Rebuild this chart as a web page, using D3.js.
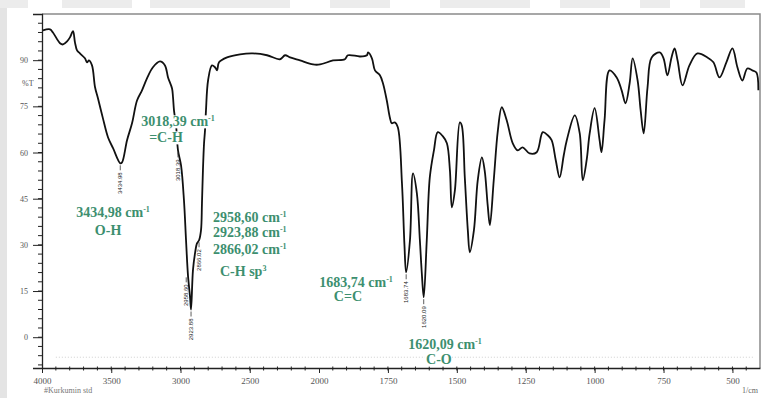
<!DOCTYPE html>
<html>
<head>
<meta charset="utf-8">
<script src="https://cdn.jsdelivr.net/npm/d3@7"></script>
<style>
  html, body { margin: 0; padding: 0; background: #fff; }
  svg { display: block; }
</style>
</head>
<body>
<svg></svg>
<script>
// spectrum (wavenumber in 1/cm, transmittance in %T)
let wavenumbers = [3993, 3942, 3921, 3870, 3848, 3819, 3798, 3776, 3762, 3747, 3726, 3690, 3675, 3661, 3639, 3617, 3596, 3560, 3523, 3487,
    3435, 3422, 3386, 3350, 3314, 3278, 3242, 3199, 3148, 3112, 3090, 3061, 3054, 3047, 3032, 3018, 2996, 2975, 2960, 2946,
    2931, 2924, 2910, 2895, 2881, 2866, 2852, 2845, 2838, 2830, 2823, 2816, 2801, 2773, 2751, 2736, 2722, 2664, 2570, 2477,
    2375, 2282, 2245, 2209, 2137, 2043, 1996, 1949, 1906, 1895, 1851, 1826, 1822, 1808, 1797, 1779, 1768, 1754, 1743, 1736,
    1725, 1714, 1699, 1690, 1684, 1670, 1659, 1645, 1634, 1627, 1620, 1609, 1598, 1583, 1569, 1551, 1536, 1525, 1518, 1507,
    1489, 1482, 1471, 1460, 1453, 1438, 1424, 1409, 1399, 1388, 1380, 1366, 1351, 1337, 1319, 1297, 1279, 1261, 1236, 1210,
    1188, 1170, 1156, 1141, 1127, 1112, 1101, 1072, 1054, 1043, 1029, 1018, 1000, 982, 975, 964, 946, 920, 902, 888,
    873, 862, 844, 833, 822, 808, 793, 764, 750, 736, 721, 710, 699, 681, 656, 627, 591, 569, 547, 522,
    500, 482, 464, 446, 428, 413, 406];
let transmittance = [99.7, 100.0, 99.0, 95.5, 95.1, 96.1, 97.4, 99.4, 95.8, 93.2, 92.2, 90.6, 89.3, 89.9, 88.3, 81.2, 77.6, 71.1, 64.9, 61.4,
    56.5, 56.8, 64.0, 69.5, 76.9, 80.2, 84.1, 87.7, 89.6, 88.3, 84.4, 80.8, 77.9, 73.7, 68.8, 60.7, 55.8, 44.5, 31.5, 20.1,
    13.0, 9.0, 21.8, 27.3, 30.5, 31.5, 34.7, 43.5, 54.2, 63.0, 67.2, 73.7, 83.4, 88.3, 87.7, 86.7, 89.3, 90.9, 91.9, 92.2,
    91.6, 90.3, 91.6, 90.9, 89.9, 88.6, 88.6, 89.9, 90.3, 91.6, 91.2, 91.6, 92.5, 90.6, 86.7, 85.1, 82.5, 76.9, 71.4, 69.5,
    69.8, 68.2, 50.0, 30.0, 21.1, 31.5, 53.2, 46.8, 31.5, 20.8, 13.0, 31.5, 51.9, 60.7, 66.6, 65.3, 63.0, 54.2, 42.2, 47.7,
    69.8, 68.8, 51.9, 34.7, 27.6, 34.7, 51.0, 58.4, 54.2, 42.9, 36.4, 51.0, 67.2, 74.7, 70.5, 63.0, 60.7, 61.7, 59.7, 60.1,
    66.6, 65.6, 64.0, 57.5, 51.9, 59.1, 64.0, 72.1, 66.2, 51.0, 57.5, 66.2, 74.4, 64.0, 60.1, 70.5, 86.7, 84.4, 80.2, 76.0,
    82.5, 90.6, 83.4, 73.7, 66.2, 81.2, 90.9, 92.5, 90.6, 85.1, 90.9, 93.8, 89.9, 81.8, 88.3, 92.2, 90.9, 89.3, 84.4, 89.3,
    93.8, 87.7, 83.4, 87.3, 86.7, 86.0, 80.2];

let xTickLabels = [4000, 3500, 3000, 2500, 2000, 1750, 1500, 1250, 1000, 750, 500];
let yTickLabels = [0, 15, 30, 45, 60, 75, 90];

// marked peaks (small vertical numbers under the bands)
let peakWn = [3434.98, 3018.39, 2958.60, 2923.88, 2866.02, 1683.74, 1620.09];
let peakT = [56.5, 60.7, 20.1, 9.0, 31.5, 21.1, 13.0];

// green notes: text, position in chart units, anchor
let noteTexts = ["3434,98 cm", "O-H", "3018,39 cm", "=C-H", "2958,60 cm", "2923,88 cm", "2866,02 cm", "C-H sp",
    "1683,74 cm", "C=C", "1620,09 cm", "C-O"];
let noteSup = ["-1", "", "-1", "", "-1", "-1", "-1", "3", "-1", "", "-1", ""];
let noteWn = [3487, 3523, 3018, 3105, 2765, 2765, 2765, 2715, 1732, 1895, 1543, 1565];
let noteT = [39.0, 33.1, 68.5, 63.3, 37.3, 32.5, 26.9, 19.8, 16.2, 11.7, -3.9, -8.8];
let noteAnchor = ["middle", "middle", "middle", "middle", "start", "start", "start", "start", "end", "middle", "middle", "middle"];

let width = 761;
let height = 398;

let svg = d3.select("svg").attr("width", width).attr("height", height);

// expanded scale below 2000 1/cm, like the instrument plot
let xScale = d3.scaleLinear().domain([4000, 2000, 400]).range([42, 319, 760]);
let yScale = d3.scaleLinear().domain([-10, 105]).range([368, 14]);

// faint watermark bits along the left and top edges
svg.append("rect").attr("x", 0).attr("y", 0).attr("width", 7).attr("height", height).attr("fill", "#e4e4e4");
let wmX = [0, 62, 150, 330, 440, 560, 640, 700];
let wmW = [28, 70, 140, 60, 90, 50, 30, 45];
svg.selectAll(".wm").data(wmX).enter().append("rect")
    .attr("x", d => d).attr("y", 0)
    .attr("width", (d, i) => wmW[i]).attr("height", 8)
    .attr("fill", "#ececec");

// frame (top and right in grey)
svg.append("path")
    .attr("d", `M${xScale(4000)},${yScale(105)}H${xScale(400)}V${yScale(-10)}`)
    .attr("fill", "none").attr("stroke", "#8a8a8a").attr("stroke-width", 1.5);

// faint dotted line near the bottom
svg.append("line")
    .attr("x1", xScale(3900)).attr("x2", xScale(420))
    .attr("y1", yScale(-6.5)).attr("y2", yScale(-6.5))
    .attr("stroke", "#d0d0d0").attr("stroke-dasharray", "1,2");

// y axis
let yMinor = d3.range(-9, 105, 3);
let yAxis = d3.axisLeft(yScale).tickValues(yTickLabels).tickSize(9).tickPadding(5);
let gy = svg.append("g").attr("transform", `translate(${xScale(4000)},0)`).call(yAxis);
gy.selectAll("line").attr("stroke", "#222");
gy.select(".domain").attr("stroke", "#222").attr("stroke-width", 1.3);
gy.selectAll("text").attr("font-family", "Liberation Serif").attr("font-size", 8).attr("fill", "#555");
gy.selectAll(".minor").data(yMinor).enter().append("line")
    .attr("x1", -4).attr("x2", 0)
    .attr("y1", d => yScale(d)).attr("y2", d => yScale(d))
    .attr("stroke", "#222");
svg.append("text").attr("x", 22).attr("y", yScale(82.5) + 3)
    .attr("font-family", "Liberation Serif").attr("font-size", 8).attr("fill", "#555").text("%T");

// x axis
let xMinor = d3.range(3900, 2000, -100).concat(d3.range(1950, 400, -50));
let xAxis = d3.axisBottom(xScale).tickValues(xTickLabels).tickFormat(d3.format("d"))
    .tickSize(5).tickPadding(5).tickSizeOuter(0);
let gx = svg.append("g").attr("transform", `translate(0,${yScale(-10)})`).call(xAxis);
gx.selectAll("line").attr("stroke", "#222");
gx.select(".domain").attr("stroke", "#222").attr("stroke-width", 1.3);
gx.selectAll("text").attr("font-family", "Liberation Serif").attr("font-size", 9).attr("fill", "#555");
gx.selectAll(".minor").data(xMinor).enter().append("line")
    .attr("x1", d => xScale(d)).attr("x2", d => xScale(d))
    .attr("y1", -1.5).attr("y2", 2.5)
    .attr("stroke", "#222");
svg.append("text").attr("x", 44).attr("y", 393)
    .attr("font-family", "Liberation Serif").attr("font-size", 8).attr("fill", "#777").text("#Kurkumin std");
svg.append("text").attr("x", 758).attr("y", 393).attr("text-anchor", "end")
    .attr("font-family", "Liberation Serif").attr("font-size", 8).attr("fill", "#666").text("1/cm");

// spectrum
let points = wavenumbers.map((w, i) => [w, transmittance[i]]);
let line = d3.line().x(d => xScale(d[0])).y(d => yScale(d[1])).curve(d3.curveCatmullRom.alpha(0.5));
svg.append("path")
    .datum(points)
    .attr("d", line)
    .attr("fill", "none")
    .attr("stroke", "#111")
    .attr("stroke-width", 1.8)
    .attr("stroke-linejoin", "round");

// peak markers: short leader then rotated value
let peaks = svg.selectAll(".peak").data(peakWn).enter().append("g")
    .attr("transform", (d, i) => `translate(${xScale(d)},${yScale(peakT[i]) + 2})`);
peaks.append("line").attr("x1", 0).attr("x2", 0).attr("y1", 0).attr("y2", 5)
    .attr("stroke", "#333").attr("stroke-width", 0.8);
peaks.append("text")
    .attr("transform", "translate(2,7) rotate(-90)")
    .attr("text-anchor", "end")
    .attr("font-family", "Liberation Sans").attr("font-size", 6).attr("fill", "#222")
    .text(d => d.toFixed(2));

// green notes, on a white ground like the original overlay
let noteLayer = svg.append("g");
let notes = noteLayer.selectAll(".note").data(noteTexts).enter().append("text")
    .attr("x", (d, i) => xScale(noteWn[i]))
    .attr("y", (d, i) => yScale(noteT[i]))
    .attr("text-anchor", (d, i) => noteAnchor[i])
    .attr("font-family", "Liberation Serif").attr("font-weight", "bold").attr("font-size", 14)
    .attr("fill", "#3d8f6f");
notes.append("tspan").attr("class", "main").text(d => d);
notes.append("tspan").attr("dy", -5).attr("font-size", 8).text((d, i) => noteSup[i]);
notes.each(function () {
    let b = d3.select(this).select(".main").node().getBBox();
    noteLayer.insert("rect", "text")
        .attr("x", b.x - 1).attr("y", b.y + 1)
        .attr("width", b.width + 1).attr("height", b.height - 2)
        .attr("fill", "#fff");
});
</script>
</body>
</html>
